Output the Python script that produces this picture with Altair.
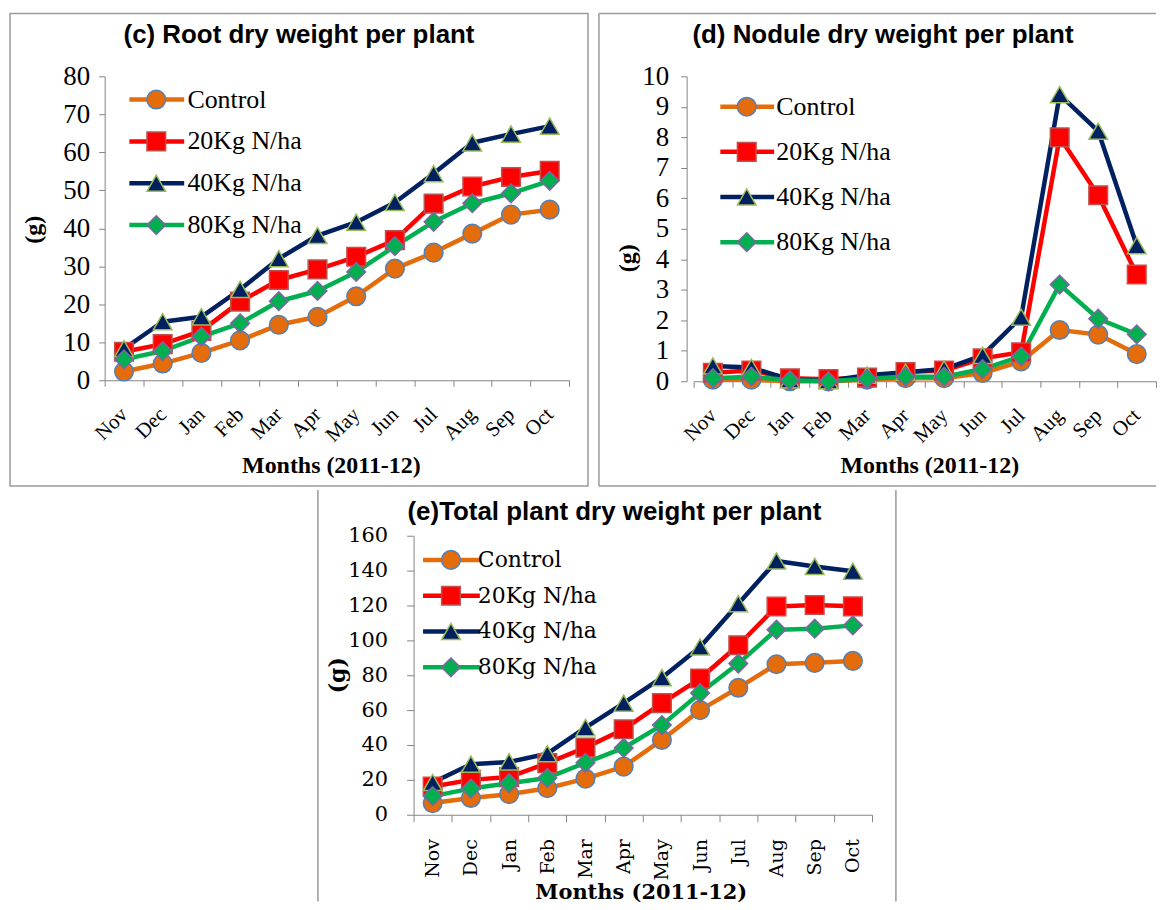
import altair as alt
import pandas as pd

# ---------------- data ----------------
months = ["Nov", "Dec", "Jan", "Feb", "Mar", "Apr", "May", "Jun", "Jul", "Aug", "Sep", "Oct"]
series_names = ["Control", "20Kg N/ha", "40Kg N/ha", "80Kg N/ha"]

# (c) Root dry weight per plant (g)
root_control = [2.3, 4.4, 7.2, 10.5, 14.6, 16.7, 22.1, 29.4, 33.6, 38.6, 43.6, 44.9]
root_20kg = [7.5, 9.5, 13.0, 20.7, 26.4, 29.2, 32.5, 36.9, 46.5, 51.0, 53.5, 55.1]
root_40kg = [8.3, 15.4, 16.7, 23.9, 32.0, 38.1, 41.6, 46.8, 54.4, 62.5, 64.8, 66.9]
root_80kg = [5.5, 7.7, 11.5, 15.0, 20.8, 23.5, 28.5, 35.3, 41.7, 46.6, 49.2, 52.5]

# (d) Nodule dry weight per plant (g)
nod_control = [0.05, 0.05, 0.0, 0.0, 0.05, 0.1, 0.1, 0.27, 0.65, 1.68, 1.53, 0.89]
nod_20kg = [0.28, 0.35, 0.1, 0.07, 0.12, 0.3, 0.35, 0.75, 0.95, 8.0, 6.1, 3.5]
nod_40kg = [0.5, 0.45, 0.05, 0.02, 0.2, 0.3, 0.4, 0.85, 2.1, 9.4, 8.2, 4.45]
nod_80kg = [0.1, 0.15, 0.03, 0.0, 0.08, 0.15, 0.15, 0.4, 0.82, 3.17, 2.05, 1.54]

# (e) Total plant dry weight per plant (g)
tot_control = [6.7, 9.6, 11.8, 15.2, 20.7, 27.6, 42.9, 60.0, 72.8, 86.3, 87.1, 88.2]
tot_20kg = [16.2, 20.0, 21.6, 29.6, 38.5, 49.0, 64.0, 78.1, 97.2, 119.4, 120.3, 119.5]
tot_40kg = [18.5, 29.0, 30.3, 35.0, 50.0, 64.0, 78.6, 96.2, 121.0, 145.5, 142.4, 139.6]
tot_80kg = [10.7, 15.0, 18.1, 21.1, 29.8, 38.3, 51.4, 69.8, 86.7, 106.1, 106.7, 108.6]

# tick values / labels
root_ticks = [0, 10, 20, 30, 40, 50, 60, 70, 80]
nod_ticks = [0, 1, 2, 3, 4, 5, 6, 7, 8, 9, 10]
tot_ticks = [0, 20, 40, 60, 80, 100, 120, 140, 160]

# ---------------- styles ----------------
line_colors = ["#E46C0A", "#FF0000", "#002060", "#00B050"]
marker_strokes = ["#4F81BD", "#C0504D", "#9BBB59", "#8064A2"]
shapes = ["circle", "square", "triangle-up", "diamond"]
AXIS_GRAY = "#868686"
FRAME_GRAY = "#9A9A9A"
SP = "\\u00a0"  # escape sequence parsed by the Vega expression language
TITLE_FONT = "Liberation Sans"
line_keys = ["line " + s for s in series_names]

frame_df = pd.DataFrame({"k": [0]})


def long_df(arrs):
    rows = []
    for name, key, vals in zip(series_names, line_keys, arrs):
        for i, (m, v) in enumerate(zip(months, vals)):
            rows.append({"month": m, "idx": i, "value": v, "series_line": key, "series": name})
    return pd.DataFrame(rows)


def frame_rect(x1, x2, y1, y2):
    return alt.Chart(frame_df).mark_rect(fillOpacity=0, stroke=FRAME_GRAY, strokeWidth=1.5).encode(
        x=alt.value(x1), x2=alt.value(x2), y=alt.value(y1), y2=alt.value(y2))


def frame_rule(x1, x2, y1, y2):
    return alt.Chart(frame_df).mark_rule(stroke=FRAME_GRAY, strokeWidth=1.5).encode(
        x=alt.value(x1), x2=alt.value(x2), y=alt.value(y1), y2=alt.value(y2))


def make_panel(df, p, frames):
    xenc = alt.X(
        "month:N", sort=months, bandPosition=0.5,
        scale=alt.Scale(type="band", paddingInner=0, paddingOuter=0),
        axis=alt.Axis(
            title="Months (2011-12)", tickBand="extent", grid=False,
            domainColor=AXIS_GRAY, tickColor=AXIS_GRAY, tickSize=p["xtick"],
            labelAngle=p["xangle"], labelAlign="right", labelBaseline="middle",
            labelFont=p["font"], labelFontSize=p["xlabel_size"], labelColor="black",
            labelPadding=p["xlabel_pad"], labelOverlap=False,
            titleFont=p["font"], titleFontSize=p["xtitle_size"], titleFontWeight="bold",
            titleColor="black", titleX=p["xtitle_x"], titleY=p["xtitle_y"],
            titleBaseline="alphabetic", titleAlign="center"))
    yenc = alt.Y(
        "value:Q", scale=alt.Scale(domain=[0, p["ymax"]], nice=False),
        axis=alt.Axis(
            values=p["yticks"], title="(g)", grid=False, offset=p["yoffset"],
            domainColor=AXIS_GRAY, tickColor=AXIS_GRAY, tickSize=p["ytick"],
            labelFont=p["font"], labelFontSize=p["ylabel_size"], labelColor="black",
            labelPadding=p["ylabel_pad"], labelOverlap=False,
            titleFont=p["font"], titleFontSize=p["ytitle_size"], titleFontWeight="bold",
            titleColor="black", titleX=p["ytitle_x"], titleY=p["ytitle_y"],
            titleAngle=270, titleAlign="center", titleBaseline="middle"))

    line_legend = alt.Legend(
        title=None, orient="none", direction="vertical", legendX=p["lx"], legendY=p["ly"], padding=0,
        symbolType="stroke", symbolSize=p["L"] * p["L"], symbolStrokeWidth=p["lw"],
        labelFont=p["lfont"], labelFontSize=p["lsize"], labelColor="black", labelExpr="''",
        clipHeight=p["ch"], rowPadding=p["rp"])
    shape_legend = alt.Legend(
        title=None, orient="none", direction="vertical", legendX=p["lx"], legendY=p["ly"], padding=0,
        symbolSize=p["msize"], symbolStrokeWidth=1.5, symbolOffset=p["so"], symbolOpacity=1,
        labelOffset=p["lo"], labelFont=p["lfont"], labelFontSize=p["lsize"], labelColor="black",
        clipHeight=p["ch"], rowPadding=p["rp"], labelExpr=p["lexpr"])

    base = alt.Chart(df)
    lines = base.mark_line(strokeWidth=p["lw"], strokeJoin="round", strokeCap="round").encode(
        x=xenc, y=yenc, order=alt.Order("idx:Q"),
        color=alt.Color("series_line:N", scale=alt.Scale(domain=line_keys, range=line_colors),
                        legend=line_legend))
    points = base.mark_point(filled=True, opacity=1, size=p["msize"], strokeWidth=1.5).encode(
        x=xenc, y=yenc,
        fill=alt.Fill("series:N", scale=alt.Scale(domain=series_names, range=line_colors),
                      legend=shape_legend),
        stroke=alt.Stroke("series:N", scale=alt.Scale(domain=series_names, range=marker_strokes),
                          legend=shape_legend),
        shape=alt.Shape("series:N", scale=alt.Scale(domain=series_names, range=shapes),
                        legend=shape_legend))

    title = alt.TitleParams(
        text=p["title"], font=TITLE_FONT, fontSize=p["title_size"], fontWeight="bold",
        color="black", anchor="middle", frame="group", dx=p["title_dx"],
        offset=p["title_offset"], baseline="alphabetic")
    return alt.layer(*frames, lines, points).properties(
        width=p["width"], height=p["height"], title=title)


lexpr_cd = f"datum.label == 'Control' ? datum.label : '{SP}' + datum.label"
lexpr_e = (f"(datum.label == '40Kg N/ha' || datum.label == '80Kg N/ha') ? '{SP}' + datum.label"
           " : datum.label")

serif = "Liberation Serif"
pc = dict(font=serif, ymax=80, yticks=root_ticks, width=466, height=305,
          xtick=6, ytick=6, xangle=-45, xlabel_size=21, xlabel_pad=25,
          xtitle_size=24, xtitle_x=227, xtitle_y=93, yoffset=0,
          ylabel_size=27, ylabel_pad=9, ytitle_size=24, ytitle_x=-71, ytitle_y=153.5,
          lw=4.5, msize=350, lx=22.3, ly=10.3, L=55, so=16.5, lo=18.2, ch=26, rp=16,
          lfont=serif, lsize=26, lexpr=lexpr_cd,
          title="(c) Root dry weight per plant", title_size=26, title_dx=-38, title_offset=-56.75)
pd_ = dict(font=serif, ymax=10, yticks=nod_ticks, width=464, height=306,
           xtick=6, ytick=6, xangle=-45, xlabel_size=21, xlabel_pad=25,
           xtitle_size=24, xtitle_x=236.5, xtitle_y=92, yoffset=7,
           ylabel_size=27, ylabel_pad=12, ytitle_size=24, ytitle_x=-59, ytitle_y=182,
           lw=4.5, msize=350, lx=24.3, ly=17.5, L=54, so=16, lo=16.7, ch=26, rp=19.3,
           lfont=serif, lsize=26, lexpr=lexpr_cd,
           title="(d) Nodule dry weight per plant", title_size=26, title_dx=-42, title_offset=-56.75)
dv = "DejaVu Serif"
pe = dict(font=dv, ymax=160, yticks=tot_ticks, width=460, height=280,
          xtick=7, ytick=7, xangle=-90, xlabel_size=19, xlabel_pad=17,
          xtitle_size=21, xtitle_x=228, xtitle_y=84, yoffset=0,
          ylabel_size=21, ylabel_pad=19, ytitle_size=22, ytitle_x=-76, ytitle_y=139.5,
          lw=4.5, msize=350, lx=7, ly=13.3, L=57, so=19.5, lo=16, ch=22, rp=13.9,
          lfont=dv, lsize=22, lexpr=lexpr_e,
          title="(e)Total plant dry weight per plant", title_size=26, title_dx=-28.5,
          title_offset=-56.75)

chart_c = make_panel(long_df([root_control, root_20kg, root_40kg, root_80kg]), pc,
                     [frame_rect(-95, 485, -63, 411)])
chart_d = make_panel(long_df([nod_control, nod_20kg, nod_40kg, nod_80kg]), pd_,
                     [frame_rule(-95, 464, -63, -63), frame_rule(-95, -95, -63, 411),
                      frame_rule(-95, 464, 411, 411)])
chart_e = make_panel(long_df([tot_control, tot_20kg, tot_40kg, tot_80kg]), pe,
                     [frame_rule(-96, -96, -46, 367), frame_rule(484, 484, -46, 367)])

spacer = alt.Chart(frame_df).mark_point(opacity=0).encode(
    x=alt.value(0), y=alt.value(0)).properties(width=200, height=10)

indep_scales = dict(x="independent", y="independent", color="independent", fill="independent",
                    stroke="independent", shape="independent")
indep_legends = dict(color="independent", fill="independent", stroke="independent",
                     shape="independent")

top_row = alt.hconcat(chart_c, chart_d, spacing=7, bounds="full").resolve_scale(
    **indep_scales).resolve_legend(**indep_legends)
bottom_row = alt.hconcat(spacer, chart_e, spacing=11, bounds="full").resolve_scale(
    **indep_scales).resolve_legend(**indep_legends)

chart = alt.vconcat(top_row, bottom_row, spacing=0, bounds="full").resolve_scale(
    **indep_scales).resolve_legend(**indep_legends).properties(
    padding={"left": 0, "top": 2, "right": 0, "bottom": 0},
).configure_view(stroke="transparent")

chart.save("out.html", embed_options={"renderer": "svg", "actions": False})
